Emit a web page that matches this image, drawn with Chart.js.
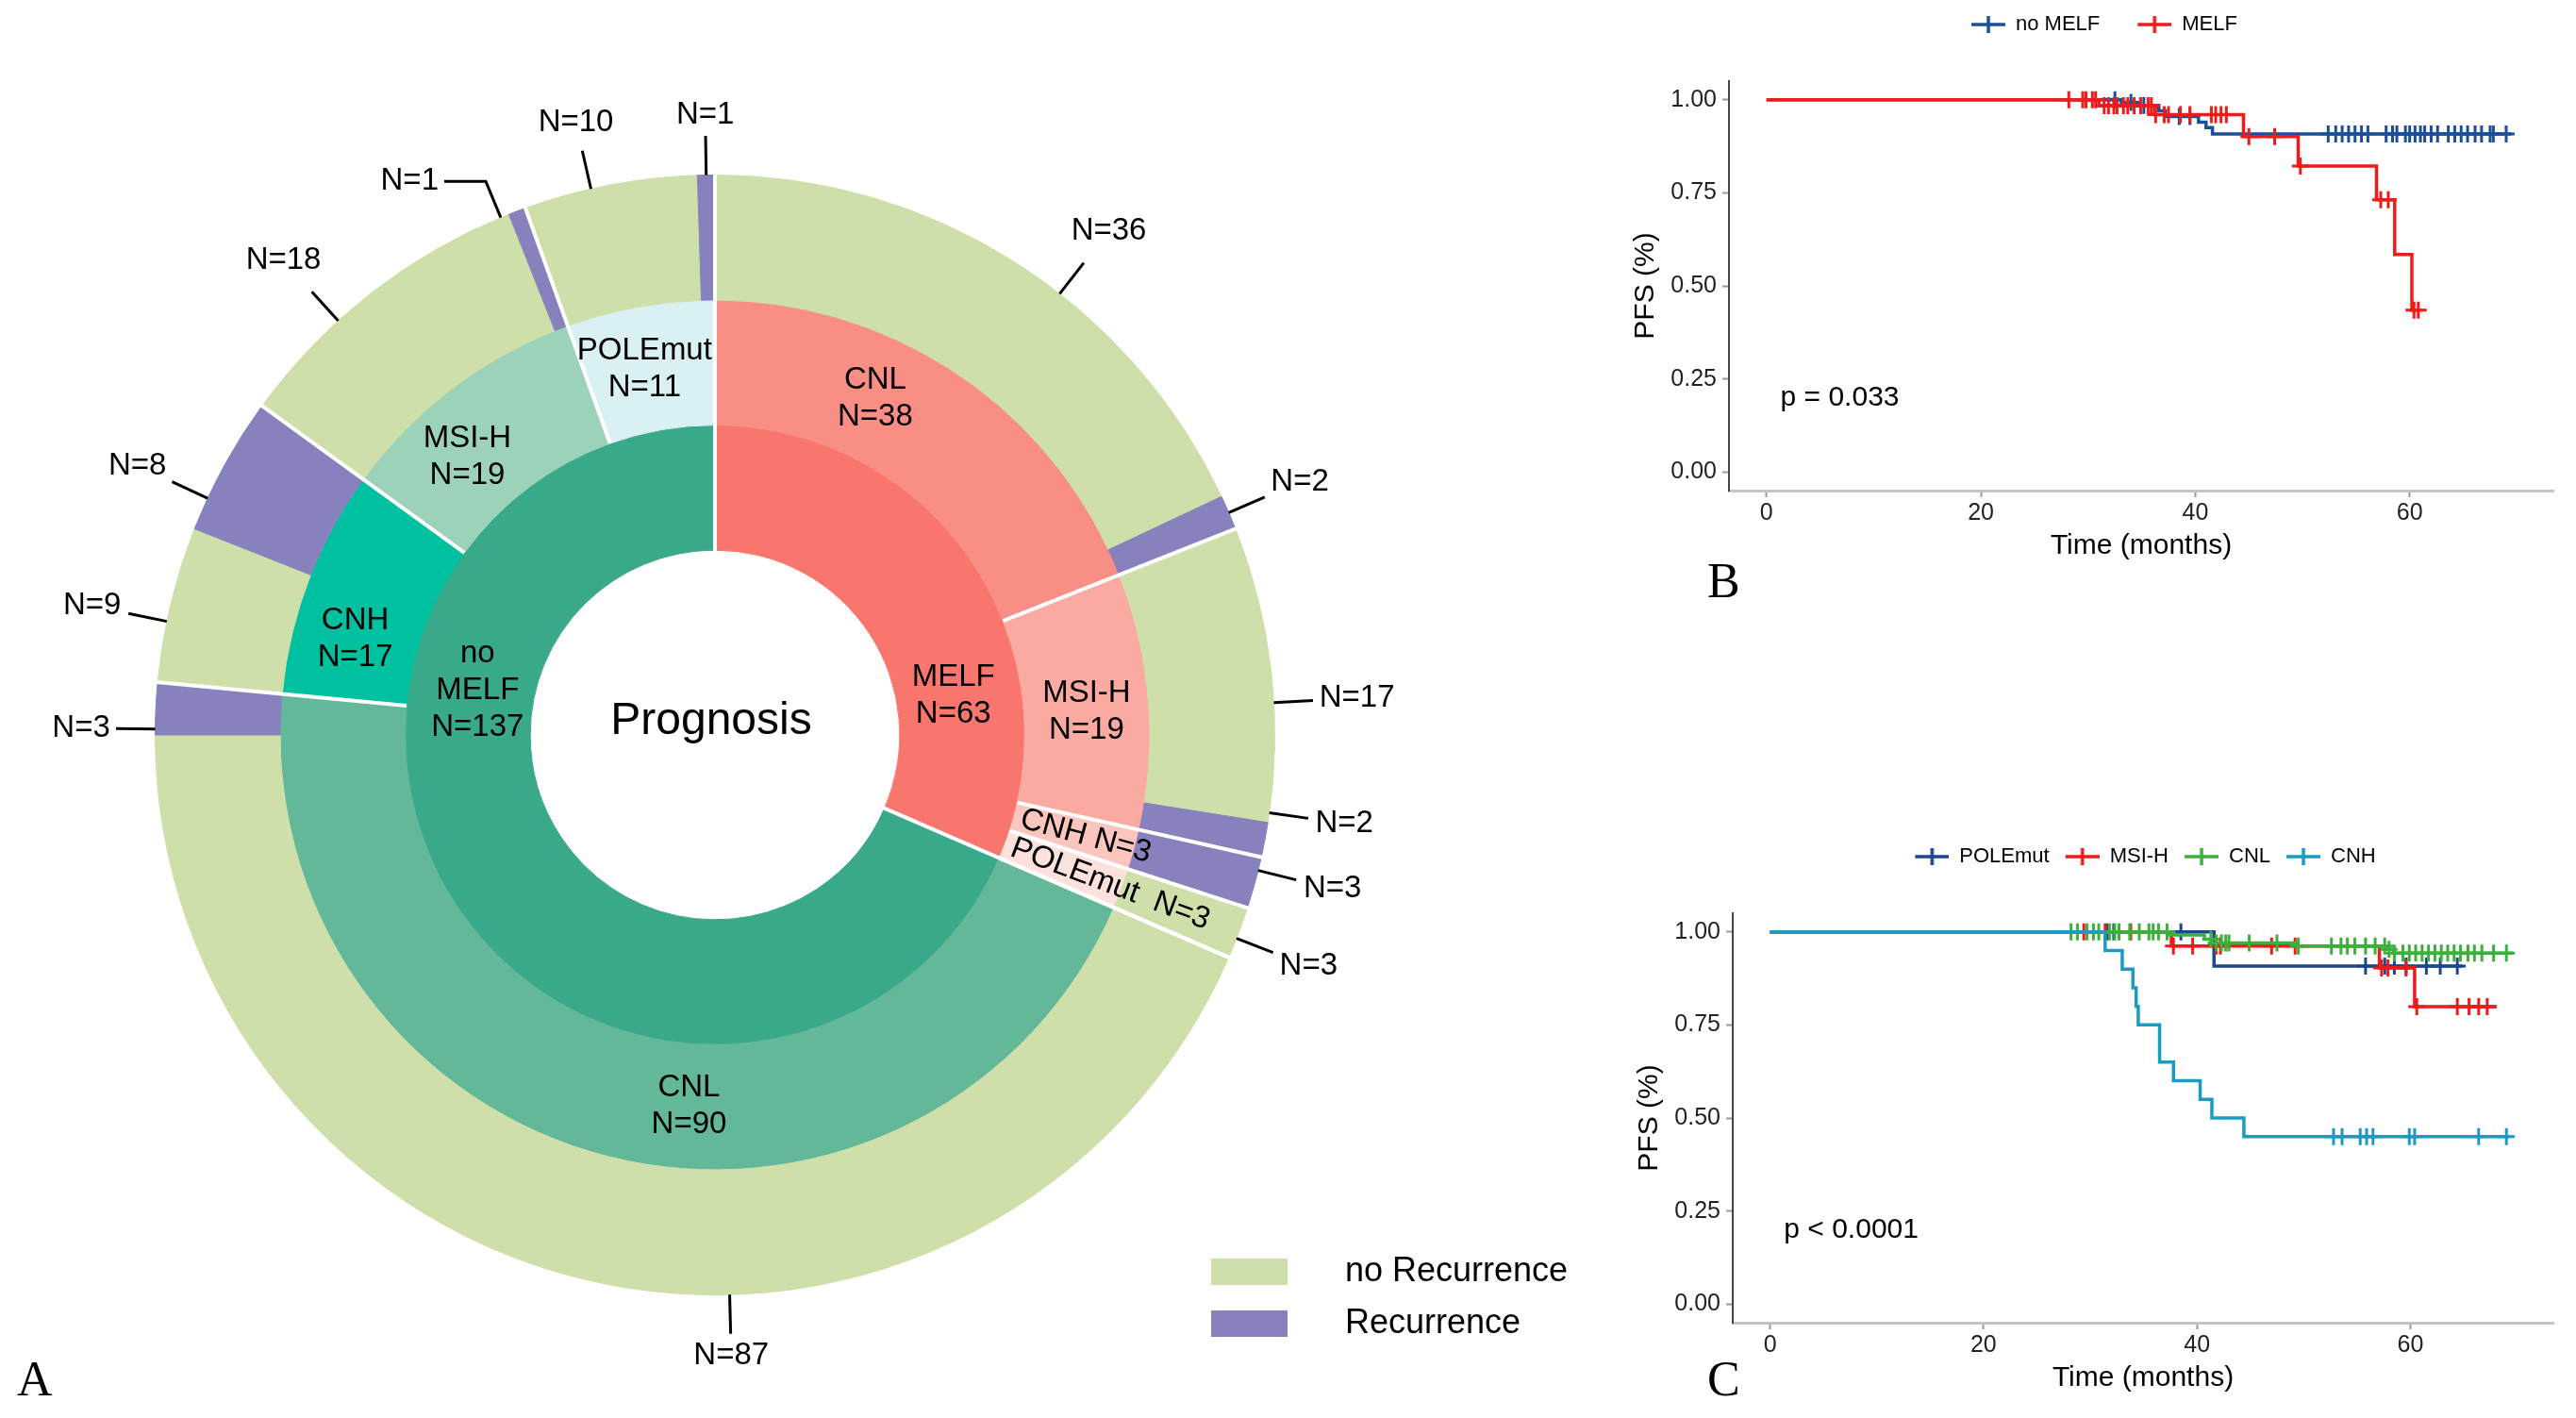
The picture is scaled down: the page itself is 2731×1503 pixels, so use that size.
<!DOCTYPE html>
<html>
<head>
<meta charset="utf-8">
<script src="https://cdn.jsdelivr.net/npm/chart.js@4.4.1/dist/chart.umd.min.js"></script>
<style>
  html, body { margin: 0; padding: 0; background: #fff; width: 2731px; height: 1503px; overflow: hidden; }
  canvas { position: absolute; }
  #pie { left: 0; top: 0; }
  #kmB { left: 1700px; top: 0; }
  #kmC { left: 1704px; top: 882px; }
  .tag { position: absolute; font-family: "Liberation Serif", "Times New Roman", serif; font-size: 52px; line-height: 52px; color: #000; }
</style>
</head>
<body>
<canvas id="pie" width="1720" height="1503"></canvas>
<canvas id="kmB" width="1031" height="620"></canvas>
<canvas id="kmC" width="1027" height="620"></canvas>
<div class="tag" style="left:18px;top:1436px">A</div>
<div class="tag" style="left:1810px;top:590px">B</div>
<div class="tag" style="left:1810px;top:1436px">C</div>
<script>
// ---- panel A: inner ring = MELF status, middle = molecular subtype, outer = recurrence
const groupNames = ['MELF', 'no MELF'];
const groupN = [63, 137];
const subtypeNames = ['CNL', 'MSI-H', 'CNH', 'POLEmut', 'CNL', 'CNH', 'MSI-H', 'POLEmut'];
const subtypeN = [38, 19, 3, 3, 90, 17, 19, 11];
const outcomeStatus = ['no', 'rec', 'no', 'rec', 'rec', 'no', 'no', 'rec', 'no', 'rec', 'no', 'rec', 'no', 'rec'];
const outcomeN = [36, 2, 17, 2, 3, 3, 87, 3, 9, 8, 18, 1, 10, 1];
const statusLabels = ['no Recurrence', 'Recurrence'];

// ---- panel B: PFS by MELF
const noMelfTime = [0, 33.1, 34.6, 36.6, 37.2, 40.3, 41.0, 41.6, 69.5];
const noMelfSurv = [1, 0.993, 0.985, 0.970, 0.955, 0.940, 0.925, 0.908, 0.908];
const noMelfCensor = [32.5, 34.0, 35.2, 38.5, 39.5, 52.4, 53.1, 53.7, 54.3, 54.9, 55.5, 56.1, 57.8, 58.4, 58.8, 59.6, 60.0, 60.5, 61.0, 61.4, 62.0, 62.6, 63.6, 64.2, 64.8, 65.4, 66.1, 66.7, 67.5, 67.8, 69.0];
const melfTime = [0, 31.0, 36.2, 44.5, 49.6, 56.9, 58.6, 60.2, 60.8];
const melfSurv = [1, 0.984, 0.960, 0.901, 0.822, 0.731, 0.584, 0.435, 0.435];
const melfCensor = [28.2, 29.5, 29.8, 30.4, 30.7, 31.5, 31.9, 32.4, 32.7, 33.3, 33.7, 34.3, 34.9, 35.6, 35.9, 36.3, 37.1, 37.5, 38.6, 39.5, 41.5, 41.9, 42.4, 42.9, 45.0, 47.4, 49.8, 57.3, 58.0, 60.4, 60.8];

// ---- panel C: PFS by molecular subtype
const poleTime = [0, 41.6, 64.9];
const poleSurv = [1, 0.908, 0.908];
const poleCensor = [31.6, 32.2, 38.5, 55.8, 57.6, 58.5, 59.6, 61.5, 62.8, 64.4];
const msiTime = [0, 37.6, 57.1, 60.4, 68.1];
const msiSurv = [1, 0.962, 0.903, 0.799, 0.799];
const msiCensor = [29.4, 31.4, 33.8, 37.8, 39.6, 41.8, 42.2, 47.0, 49.2, 57.3, 57.9, 59.6, 60.6, 64.4, 65.5, 66.4, 67.2];
const cnlTime = [0, 37.3, 40.7, 41.4, 49.3, 57.7, 58.4, 69.6];
const cnlSurv = [1, 0.992, 0.980, 0.970, 0.962, 0.953, 0.943, 0.943];
const cnlCensor = [28.2, 28.8, 29.7, 30.3, 30.8, 31.8, 32.3, 32.7, 33.7, 34.6, 35.5, 35.9, 36.4, 37.2, 41.3, 41.8, 42.3, 42.7, 43.0, 44.9, 47.5, 49.5, 52.6, 53.5, 54.1, 54.8, 55.8, 56.7, 57.6, 58.0, 58.5, 59.3, 59.9, 60.5, 61.1, 61.7, 62.3, 62.9, 63.5, 64.1, 64.7, 65.4, 66.0, 66.7, 67.8, 69.0];
const cnhTime = [0, 31.4, 33.0, 34.0, 34.3, 34.5, 36.5, 37.8, 40.3, 41.4, 44.4, 69.3];
const cnhSurv = [1, 0.95, 0.90, 0.85, 0.80, 0.75, 0.65, 0.60, 0.55, 0.50, 0.45, 0.45];
const cnhCensor = [52.8, 53.6, 55.3, 55.9, 56.5, 59.9, 60.4, 66.4, 69.0];

const kmTicksX = [0, 20, 40, 60];
const kmTicksY = [0, 0.25, 0.5, 0.75, 1];

// styles
const groupColors = ['#F8766D', '#3AA98A'];
const subtypeColors = ['#F98E85', '#FBAAA1', '#FCC6BE', '#FDE1DD', '#63B899', '#00C19F', '#9CD2B9', '#DAF1F3'];
const statusColors = { no: '#CFDFA9', rec: '#8781BD' };
// small turns (degrees) so the text sits where the figure put it
const groupLabelTurn = [24, 44];
const subtypeLabelTurn = [-8.7, 0.9, 0, 0, -10.4, -5.8, -4.8, -1];
const outcomeLabelTurn = [5.6, 0, 3, -2.8, -1.3, 0.6, -13.2, -2.1, -1.8, -3.8, -4.5, -1.8, -2, 0];
const outcomeElbow = [11];

Chart.defaults.font.family = '"Liberation Sans", Arial, sans-serif';
Chart.defaults.color = '#000';

const FONT = '"Liberation Sans", Arial, sans-serif';

// labels, separators and legend for the sunburst
const sunburstText = {
    id: 'sunburstText',
    afterDatasetsDraw(chart) {
        const ctx = chart.ctx;
        const outerArcs = chart.getDatasetMeta(0).data;
        const midArcs = chart.getDatasetMeta(1).data;
        const innerArcs = chart.getDatasetMeta(2).data;
        const cx = innerArcs[0].x, cy = innerArcs[0].y;
        const rOut = outerArcs[0].outerRadius;
        const deg = Math.PI / 180;
        const pt = (a, r) => [cx + r * Math.cos(a), cy + r * Math.sin(a)];

        ctx.save();
        // white lines between subtypes and between groups
        ctx.strokeStyle = '#fff';
        ctx.lineWidth = 4;
        function ray(a, r0, r1) {
            const p0 = pt(a, r0), p1 = pt(a, r1);
            ctx.beginPath();
            ctx.moveTo(p0[0], p0[1]);
            ctx.lineTo(p1[0], p1[1]);
            ctx.stroke();
        }
        midArcs.forEach(arc => ray(arc.startAngle, arc.innerRadius, rOut + 1));
        innerArcs.forEach(arc => ray(arc.startAngle, arc.innerRadius - 1, rOut + 1));

        ctx.fillStyle = '#000';
        ctx.textAlign = 'center';
        ctx.textBaseline = 'middle';
        ctx.font = '33px ' + FONT;
        const lh = 39;
        function lines(list, x, y) {
            const top = y - (list.length - 1) * lh / 2;
            list.forEach((t, k) => ctx.fillText(t, x, top + k * lh));
        }

        innerArcs.forEach((arc, i) => {
            const a = (arc.startAngle + arc.endAngle) / 2 + groupLabelTurn[i] * deg;
            const p = pt(a, (arc.innerRadius + arc.outerRadius) / 2 - 6);
            lines(groupNames[i].split(' ').concat('N=' + groupN[i]), p[0], p[1]);
        });

        midArcs.forEach((arc, i) => {
            const a = (arc.startAngle + arc.endAngle) / 2 + subtypeLabelTurn[i] * deg;
            if (subtypeN[i] < 5) {
                // thin slices: text along the radius
                const p = pt(a, arc.innerRadius + 8);
                ctx.save();
                ctx.translate(p[0], p[1]);
                ctx.rotate(a);
                ctx.textAlign = 'left';
                const gap = subtypeNames[i] === 'POLEmut' ? '  ' : ' ';
                ctx.fillText(subtypeNames[i] + gap + 'N=' + subtypeN[i], 0, 0);
                ctx.restore();
            } else {
                const p = pt(a, (arc.innerRadius + arc.outerRadius) / 2);
                lines([subtypeNames[i], 'N=' + subtypeN[i]], p[0], p[1]);
            }
        });

        // outer counts with leader lines
        ctx.strokeStyle = '#000';
        ctx.lineWidth = 3;
        outerArcs.forEach((arc, i) => {
            const a = (arc.startAngle + arc.endAngle) / 2 + outcomeLabelTurn[i] * deg;
            const r0 = arc.outerRadius;
            const p0 = pt(a, r0), p1 = pt(a, r0 * 1.07);
            const text = 'N=' + outcomeN[i];
            const w = ctx.measureText(text).width;
            let tx, ty;
            ctx.beginPath();
            ctx.moveTo(p0[0], p0[1]);
            ctx.lineTo(p1[0], p1[1]);
            if (outcomeElbow.includes(i)) {
                ctx.lineTo(p1[0] - 44, p1[1]);
                tx = p1[0] - 50 - w / 2;
                ty = p1[1];
            } else {
                const dx = Math.cos(a), dy = Math.sin(a);
                const off = 6 + Math.abs(dx) * w / 2 + Math.abs(dy) * 16;
                tx = p1[0] + dx * off;
                ty = p1[1] + dy * off;
            }
            ctx.stroke();
            ctx.fillText(text, tx, ty);
        });

        ctx.font = '48px ' + FONT;
        ctx.fillText('Prognosis', cx - 4, cy - 14);

        // legend
        ctx.font = '36px ' + FONT;
        ctx.textAlign = 'left';
        ['no', 'rec'].forEach((s, k) => {
            const y = 1334 + k * 55;
            ctx.fillStyle = statusColors[s];
            ctx.fillRect(1284, y, 81, 28);
            ctx.fillStyle = '#000';
            ctx.fillText(statusLabels[k], 1426, y + 14);
        });
        ctx.restore();
    }
};

new Chart(document.getElementById('pie'), {
    type: 'doughnut',
    data: {
        datasets: [{
            data: outcomeN,
            backgroundColor: outcomeStatus.map(s => statusColors[s]),
            borderColor: outcomeStatus.map(s => statusColors[s])
        }, {
            data: subtypeN,
            backgroundColor: subtypeColors,
            borderColor: subtypeColors
        }, {
            data: groupN,
            backgroundColor: groupColors,
            borderColor: groupColors
        }]
    },
    options: {
        responsive: false,
        animation: false,
        events: [],
        cutout: '33%',
        borderWidth: 1,
        hoverOffset: 0,
        layout: { padding: { left: 164, top: 185, right: 368, bottom: 130 } },
        plugins: { legend: { display: false }, tooltip: { enabled: false } }
    },
    plugins: [sunburstText]
});

// ---- KM panels
function survAt(time, surv, t) {
    let k = 0;
    for (let i = 0; i < time.length; i++) if (time[i] <= t) k = i;
    return surv[k];
}

function legendIcon(color, blank) {
    const c = document.createElement('canvas');
    c.width = blank + 36;
    c.height = 22;
    const g = c.getContext('2d');
    g.strokeStyle = color;
    g.lineWidth = 3.5;
    g.beginPath();
    g.moveTo(blank, 11); g.lineTo(blank + 36, 11);
    g.moveTo(blank + 18, 2); g.lineTo(blank + 18, 20);
    g.stroke();
    return c;
}

// push the plot down from the legend
const legendMargin = {
    id: 'legendMargin',
    beforeInit(chart, args, opts) {
        if (!chart.legend) return;
        const fit = chart.legend.fit;
        chart.legend.fit = function () {
            fit.call(this);
            this.height += opts.gap;
        };
    }
};

const pValue = {
    id: 'pValue',
    afterDatasetsDraw(chart, args, opts) {
        const { ctx, scales } = chart;
        ctx.save();
        ctx.font = '30px ' + FONT;
        ctx.fillStyle = '#000';
        ctx.textAlign = 'left';
        ctx.textBaseline = 'middle';
        ctx.fillText(opts.text, scales.x.getPixelForValue(1.3), scales.y.getPixelForValue(0.2));
        ctx.restore();
    }
};

function kmChart(id, series, legendOrder, pText, blank, fullSize) {
    const datasets = [];
    series.forEach(s => {
        datasets.push({
            label: s.name,
            data: s.time.map((t, i) => ({ x: t, y: s.surv[i] })),
            borderColor: s.color,
            borderWidth: 3.5,
            pointRadius: 0,
            stepped: true,
            fill: false
        });
        datasets.push({
            label: s.name + ' censored',
            data: s.censor.map(t => ({ x: t, y: survAt(s.time, s.surv, t) })),
            showLine: false,
            pointStyle: 'cross',
            pointRadius: 9,
            pointBorderWidth: 3,
            borderColor: s.color,
            backgroundColor: s.color
        });
    });

    return new Chart(document.getElementById(id), {
        type: 'line',
        data: { datasets: datasets },
        options: {
            responsive: false,
            animation: false,
            events: [],
            layout: { padding: { left: 27, top: 3, right: 24, bottom: 23 } },
            scales: {
                x: {
                    type: 'linear',
                    min: -3.5,
                    max: 73.4,
                    afterBuildTicks: s => { s.ticks = kmTicksX.map(v => ({ value: v })); },
                    afterFit: s => { s.height = 77; },
                    ticks: { font: { size: 25 }, color: '#222', padding: 2 },
                    grid: { drawOnChartArea: false, tickLength: 7, tickWidth: 2, color: '#999' },
                    border: { color: '#c4c4c4', width: 3 },
                    title: { display: true, text: 'Time (months)', font: { size: 30 }, padding: { top: 0, bottom: 0 } }
                },
                y: {
                    min: -0.05,
                    max: 1.05,
                    afterBuildTicks: s => { s.ticks = kmTicksY.map(v => ({ value: v })); },
                    afterFit: s => { s.width = 106; },
                    ticks: { font: { size: 25 }, color: '#222', padding: 6, callback: v => v.toFixed(2) },
                    grid: { drawOnChartArea: false, tickLength: 7, tickWidth: 2, color: '#999' },
                    border: { color: '#444', width: 2 },
                    title: { display: true, text: 'PFS (%)', font: { size: 30 }, padding: { top: 0, bottom: 0 } }
                }
            },
            plugins: {
                tooltip: { enabled: false },
                legendMargin: { gap: 39 },
                pValue: { text: pText },
                legend: {
                    position: 'top',
                    fullSize: fullSize,
                    labels: {
                        usePointStyle: true,
                        pointStyleWidth: blank + 36,
                        padding: 12,
                        font: { size: 22 },
                        color: '#222',
                        generateLabels: () => legendOrder.map(name => {
                            const s = series.find(q => q.name === name);
                            return { text: name, pointStyle: legendIcon(s.color, blank), fillStyle: s.color, strokeStyle: s.color, lineWidth: 0, hidden: false };
                        })
                    }
                }
            }
        },
        plugins: [legendMargin, pValue]
    });
}

// first series is drawn on top
kmChart('kmB', [
    { name: 'MELF', time: melfTime, surv: melfSurv, censor: melfCensor, color: '#EE1B1B' },
    { name: 'no MELF', time: noMelfTime, surv: noMelfSurv, censor: noMelfCensor, color: '#1D4F99' }
], ['no MELF', 'MELF'], 'p = 0.033', 28, true);

kmChart('kmC', [
    { name: 'CNH', time: cnhTime, surv: cnhSurv, censor: cnhCensor, color: '#1C9BC2' },
    { name: 'CNL', time: cnlTime, surv: cnlSurv, censor: cnlCensor, color: '#3BB03B' },
    { name: 'MSI-H', time: msiTime, surv: msiSurv, censor: msiCensor, color: '#EE1B1B' },
    { name: 'POLEmut', time: poleTime, surv: poleSurv, censor: poleCensor, color: '#1B478F' }
], ['POLEmut', 'MSI-H', 'CNL', 'CNH'], 'p < 0.0001', 5, false);
</script>
</body>
</html>
